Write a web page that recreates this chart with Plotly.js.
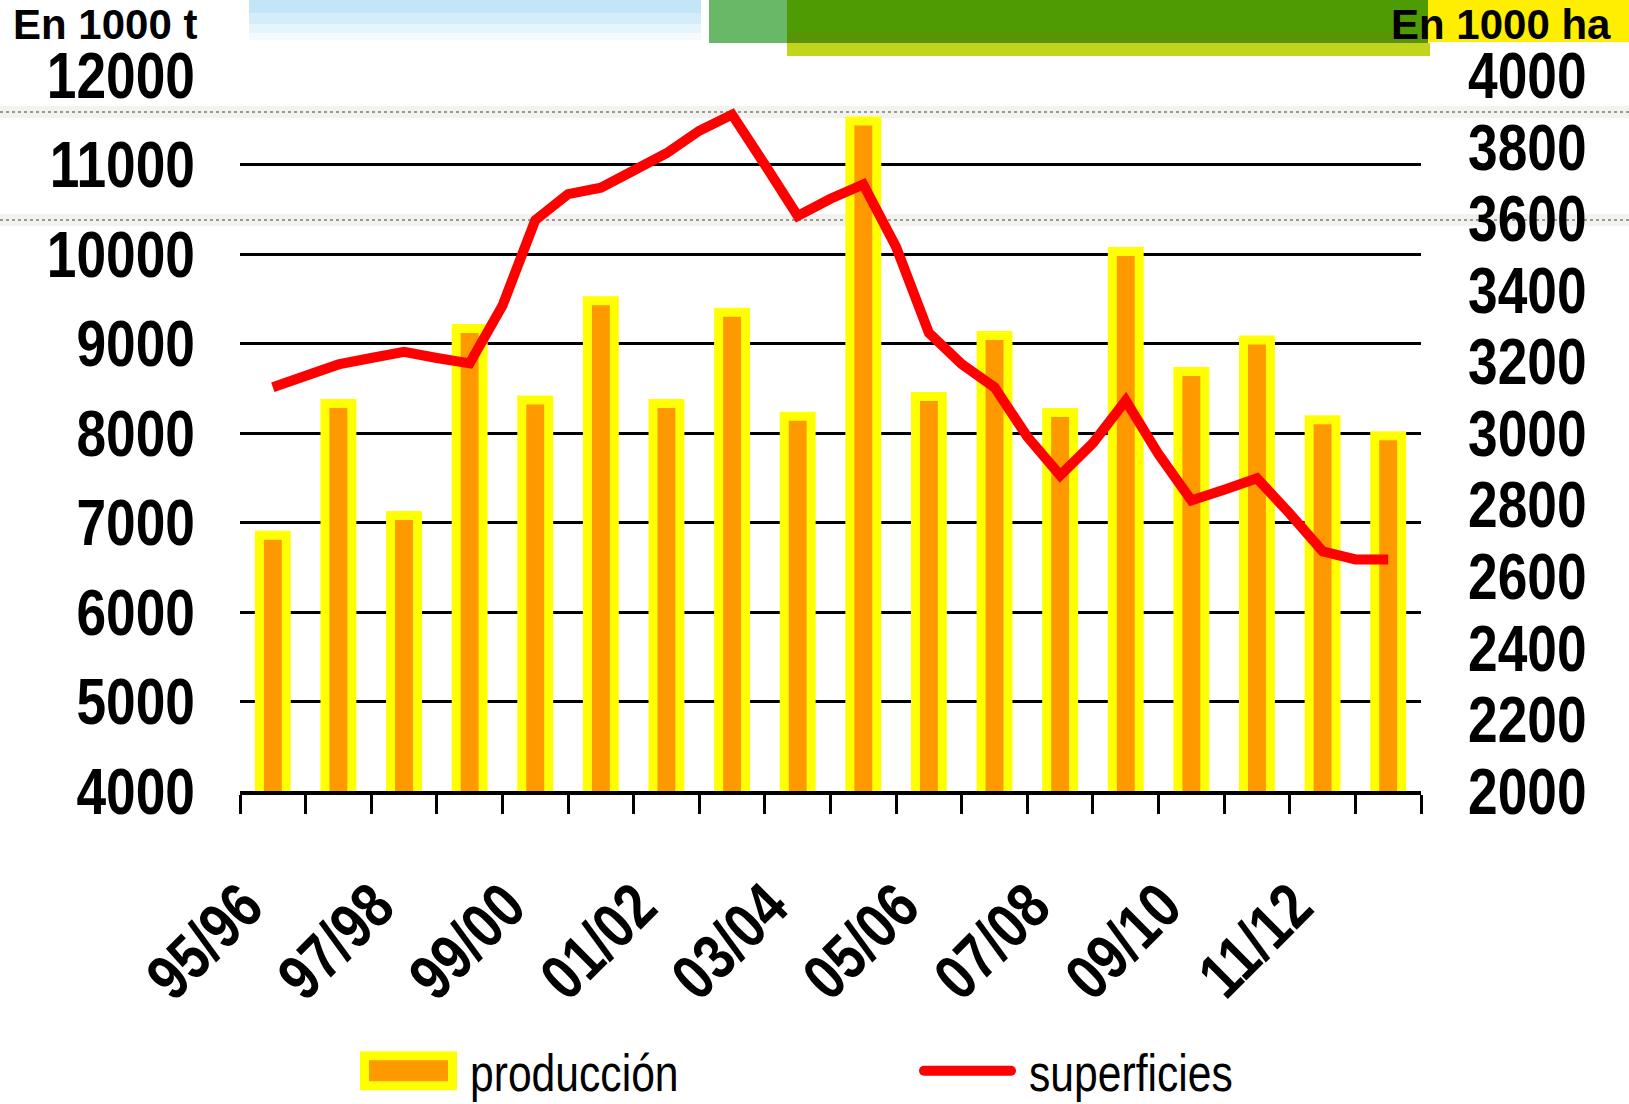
<!DOCTYPE html>
<html>
<head>
<meta charset="utf-8">
<script src="https://cdn.plot.ly/plotly-3.0.1.min.js"></script>
<style>
  html, body { margin: 0; padding: 0; background: #ffffff; }
  #chart { width: 1629px; height: 1104px; }
</style>
</head>
<body>
<div id="chart"></div>
<script>
// ---- data ----
const seasons = ["95/96","96/97","97/98","98/99","99/00","00/01","01/02","02/03","03/04",
                 "04/05","05/06","06/07","07/08","08/09","09/10","10/11","11/12","12/13"];
// production, 1000 t (bars)
const produccion = [6860, 8330, 7080, 9170, 8370, 9480, 8330, 9350, 8190,
                    11490, 8410, 9090, 8230, 10030, 8690, 9040, 8150, 7970];
// area, 1000 ha, read every half season from the start of 95/96 to 12/13
const superficies = [3128, 3162, 3192, 3210, 3227, 3210, 3195, 3356, 3595, 3668,
                     3686, 3734, 3782, 3845, 3890, 3750, 3607, 3655, 3695, 3520,
                     3280, 3193, 3128, 2990, 2882, 2972, 3091, 2941, 2812, 2842,
                     2874, 2775, 2670, 2647, 2647];
const leftTitle = "En 1000 t";
const rightTitle = "En 1000 ha";
const names = ["producción", "superficies"];

// ---- derived positions ----
const seasonPos = seasons.map((s, i) => i);
const halfPos = superficies.map((v, i) => i / 2);
const labelPos = seasonPos.filter(i => i % 2 === 0);
const labelText = labelPos.map(i => seasons[i]);
const boundaries = seasons.map((s, i) => i - 0.5).concat([seasons.length - 0.5]);

const FONT = "Liberation Sans, Arial, sans-serif";
const NARROW_RATIO = 0.82;   // Arial Narrow look

// ---- geometry helpers for decoration (pixel -> paper) ----
const L = 240, R = 208, T = 75, B = 313, W = 1629, H = 1104;
const pw = W - L - R, ph = H - T - B;
const px = X => (X - L) / pw;
const py = Y => (H - B - Y) / ph;
function rect(x0, y0, x1, y1, color) {
  return {type: 'rect', xref: 'paper', yref: 'paper', layer: 'below',
          x0: px(x0), x1: px(x1), y0: py(y1), y1: py(y0),
          line: {width: 0}, fillcolor: color};
}
function hline(Y, color, dash, width) {
  return {type: 'line', xref: 'paper', yref: 'paper', layer: 'below',
          x0: px(0), x1: px(W), y0: py(Y), y1: py(Y),
          line: {color: color, width: width, dash: dash}};
}

const shapes = [
  rect(249, 0, 701, 13, '#C2E5F8'),
  rect(249, 13, 701, 24, '#D3EDFA'),
  rect(249, 24, 701, 33, '#E6F5FC'),
  rect(249, 33, 701, 40, '#F4FAFD'),
  rect(709, 0, 787, 43, '#68B868'),
  rect(787, 0, 1428, 33, '#4F9B03'),
  rect(787, 33, 1428, 43, '#5A9308'),
  rect(787, 43, 1430, 56, '#C3D41C'),
  rect(1428, 0, 1629, 42, '#FFEE00'),
  rect(0, 106, W, 118, '#F2F2EE'),
  rect(0, 214, W, 226, '#F2F2EE'),
  hline(112, '#9A9A9A', 'dot', 2),
  hline(220, '#9A9A9A', 'dot', 2)
];

const traces = [
  {
    type: 'bar', name: names[0], x: seasonPos, y: produccion,
    width: 0.41,
    marker: {color: '#FF9900', line: {color: '#FFFF00', width: 9}},
    legend: 'legend', hoverinfo: 'skip'
  },
  {
    type: 'scatter', mode: 'lines', name: names[1], x: halfPos, y: superficies,
    yaxis: 'y2', line: {color: '#FF0000', width: 10},
    legend: 'legend2', hoverinfo: 'skip'
  }
];

const tickFont = {family: FONT, size: 65, color: '#000', weight: 700};
const legendFont = {family: FONT, size: 52, color: '#000'};

const layout = {
  width: W, height: H,
  margin: {l: L, r: R, t: T, b: B, pad: 0},
  paper_bgcolor: '#ffffff', plot_bgcolor: 'rgba(0,0,0,0)',
  showlegend: true,
  xaxis: {
    type: 'linear', range: [-0.5, seasons.length - 0.5],
    tickmode: 'array', tickvals: labelPos, ticktext: labelText,
    ticks: '', tickangle: -45, ticklabelstandoff: 48,
    tickfont: {family: FONT, size: 64, color: '#000', weight: 700},
    showgrid: false, zeroline: false,
    showline: true, linecolor: '#000', linewidth: 4,
    minor: {tickmode: 'array', tickvals: boundaries, ticks: 'outside',
            ticklen: 19, tickwidth: 3, tickcolor: '#000', showgrid: false}
  },
  yaxis: {
    range: [4000, 12003], tickmode: 'linear', tick0: 4000, dtick: 1000,
    tickformat: 'd',
    ticks: '', ticklabelstandoff: 44,
    tickfont: tickFont,
    showgrid: true, gridcolor: '#000', gridwidth: 3,
    zeroline: false, showline: false
  },
  yaxis2: {
    range: [2000, 4000.75], tickmode: 'linear', tick0: 2000, dtick: 200,
    tickformat: 'd',
    overlaying: 'y', side: 'right', ticks: '', ticklabelstandoff: 46,
    tickfont: tickFont,
    showgrid: false, zeroline: false, showline: false
  },
  legend: {
    orientation: 'h', x: px(350), xanchor: 'left', y: py(1080), yanchor: 'bottom',
    font: legendFont, itemwidth: 110, bgcolor: 'rgba(0,0,0,0)', borderwidth: 0
  },
  legend2: {
    orientation: 'h', x: px(909), xanchor: 'left', y: py(1080), yanchor: 'bottom',
    font: legendFont, itemwidth: 110, bgcolor: 'rgba(0,0,0,0)', borderwidth: 0
  },
  annotations: [
    {text: leftTitle, xref: 'paper', yref: 'paper', x: px(11), y: py(24),
     xanchor: 'left', yanchor: 'middle', showarrow: false,
     font: {family: FONT, size: 42, color: '#000', weight: 700}},
    {text: rightTitle, xref: 'paper', yref: 'paper', x: px(1613), y: py(24),
     xanchor: 'right', yanchor: 'middle', showarrow: false,
     font: {family: FONT, size: 42, color: '#000', weight: 700}}
  ],
  shapes: shapes
};

const chartDiv = document.getElementById('chart');

function squeezeOne(t, anchor, pre) {
  const cur = t.getAttribute('transform') || '';
  if (t.dataset.sq !== undefined && t.dataset.sq === cur) return;
  const b = t.getBBox();
  const ax = anchor === 'left' ? b.x : b.x + b.width;
  const ay = b.y + b.height / 2;
  const next = (pre || '') + ' ' + cur +
    ' translate(' + ax + ',' + ay + ') scale(' + NARROW_RATIO + ',1) translate(' + (-ax) + ',' + (-ay) + ')';
  t.setAttribute('transform', next);
  t.dataset.sq = t.getAttribute('transform');
}

// all legend texts, found by their content (robust to class names)
function legendTexts() {
  return Array.from(chartDiv.querySelectorAll('text')).filter(t =>
    names.indexOf((t.textContent || '').trim()) >= 0);
}

function itemGroup(txt) {
  let n = txt.parentNode;
  for (let k = 0; k < 6 && n; k++) {
    if (n.querySelector && n.querySelector('path')) return n;
    n = n.parentNode;
  }
  return txt.parentNode;
}

function legendRoot(el) {
  let n = el;
  while (n.parentNode && n.parentNode.tagName && n.parentNode.tagName.toLowerCase() === 'g' &&
         !(n.parentNode.classList && n.parentNode.classList.contains('infolayer'))) {
    n = n.parentNode;
  }
  return n;
}

function squeezeAll() {
  chartDiv.querySelectorAll('g.ytick text').forEach(t => squeezeOne(t, 'right'));
  chartDiv.querySelectorAll('g.y2tick text').forEach(t => squeezeOne(t, 'left'));
  chartDiv.querySelectorAll('g.xtick text').forEach(t => squeezeOne(t, 'right', 'translate(-29,0)'));
  legendTexts().forEach(t => squeezeOne(t, 'left'));
}

function enlargeLegendSymbols() {
  legendTexts().forEach(txt => {
    const g = itemGroup(txt);
    const tl = txt.getBoundingClientRect().left;
    const right = tl - 13, left = right - 97;
    const isBar = (txt.textContent || '').trim() === names[0];
    g.querySelectorAll('path').forEach(p => {
      const d = (p.getAttribute('d') || '').replace(/\s/g, '');
      if (!d || d === 'M0,0') return;
      const cs = getComputedStyle(p);
      if (cs.display === 'none') return;
      const m = p.getScreenCTM();
      if (!m) return;
      if (isBar) {
        if (!(/^M6,6H-6V-6H6Z$/.test(d) || p.dataset.big === 'bar')) return;
        const x0 = (left + 4.5 - m.e) / m.a, x1 = (right - 4.5 - m.e) / m.a;
        p.setAttribute('d', 'M' + x0 + ',15H' + x1 + 'V-15H' + x0 + 'Z');
        p.dataset.big = 'bar';
        p.style.strokeWidth = '9px';
        p.style.stroke = '#FFFF00';
        p.style.fill = '#FF9900';
      } else {
        if (!(/^M[-\d.]+,0h[\d.]+$/i.test(d) || /^M[-\d.]+,0H[-\d.]+$/.test(d))) return;
        const x0 = (left + 5 - m.e) / m.a, x1 = (right - 5 - m.e) / m.a;
        p.setAttribute('d', 'M' + x0 + ',0H' + x1);
        p.style.strokeWidth = '10px';
        p.style.strokeLinecap = 'round';
      }
    });
  });
}

// move each legend so its text sits where the reference has it
function placeLegends(targetCenter) {
  legendTexts().forEach(txt => {
    const lg = legendRoot(txt);
    const r = txt.getBoundingClientRect();
    const dy = targetCenter - (r.top + r.bottom) / 2;
    if (Math.abs(dy) < 0.5) return;
    const tr = lg.getAttribute('transform') || '';
    lg.setAttribute('transform', 'translate(0,' + dy + ') ' + tr);
  });
}

function finish() {
  try { squeezeAll(); } catch (e) { console.error(e); }
  try { enlargeLegendSymbols(); } catch (e) { console.error(e); }
  try { placeLegends(1073); } catch (e) { console.error(e); }
}

Plotly.newPlot(chartDiv, traces, layout, {displayModeBar: false, staticPlot: true})
  .then(gd => {
    finish();
    if (gd.on) gd.on('plotly_afterplot', finish);
    requestAnimationFrame(finish);
    setTimeout(finish, 30);
    setTimeout(finish, 200);
    setTimeout(finish, 600);
  });
</script>
</body>
</html>
